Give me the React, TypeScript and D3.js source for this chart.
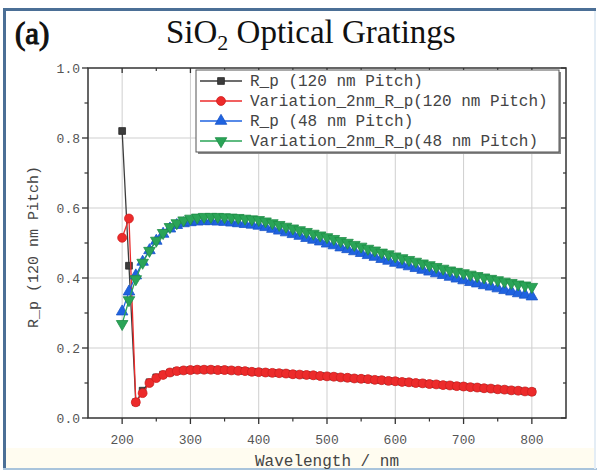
import React from "react";
import * as d3 from "d3";

const wavelengths = [200,210,220,230,240,250,260,270,280,290,300,310,320,330,340,350,360,370,380,390,400,410,420,430,440,450,460,470,480,490,500,510,520,530,540,550,560,570,580,590,600,610,620,630,640,650,660,670,680,690,700,710,720,730,740,750,760,770,780,790,800];

const rp120 = [0.820,0.435,0.045,0.078,0.102,0.116,0.124,0.130,0.134,0.136,0.137,0.138,0.138,0.138,0.137,0.137,0.136,0.135,0.134,0.132,0.131,0.130,0.129,0.128,0.127,0.125,0.124,0.123,0.122,0.120,0.119,0.118,0.116,0.115,0.113,0.112,0.111,0.109,0.108,0.106,0.105,0.103,0.102,0.100,0.099,0.097,0.096,0.094,0.093,0.091,0.090,0.088,0.087,0.085,0.084,0.082,0.081,0.079,0.078,0.076,0.075];

const var120 = [0.515,0.570,0.045,0.071,0.100,0.114,0.123,0.130,0.134,0.136,0.137,0.138,0.138,0.138,0.137,0.137,0.136,0.135,0.134,0.132,0.131,0.130,0.129,0.128,0.127,0.125,0.124,0.123,0.122,0.120,0.119,0.118,0.116,0.115,0.113,0.112,0.111,0.109,0.108,0.106,0.105,0.103,0.102,0.100,0.099,0.097,0.096,0.094,0.093,0.091,0.090,0.088,0.087,0.085,0.084,0.082,0.081,0.079,0.078,0.076,0.075];

const rp48 = [0.304,0.361,0.407,0.446,0.479,0.506,0.526,0.541,0.551,0.556,0.559,0.561,0.562,0.562,0.561,0.560,0.558,0.556,0.554,0.552,0.549,0.545,0.540,0.535,0.530,0.525,0.520,0.514,0.509,0.504,0.498,0.493,0.487,0.482,0.476,0.471,0.465,0.460,0.454,0.449,0.443,0.438,0.433,0.428,0.423,0.418,0.413,0.408,0.403,0.398,0.393,0.388,0.384,0.379,0.375,0.370,0.365,0.361,0.356,0.352,0.347];

const var48 = [0.269,0.337,0.397,0.444,0.478,0.507,0.529,0.546,0.557,0.565,0.570,0.573,0.575,0.575,0.575,0.574,0.573,0.572,0.570,0.568,0.566,0.562,0.557,0.552,0.547,0.542,0.537,0.532,0.527,0.522,0.517,0.512,0.506,0.501,0.495,0.490,0.484,0.479,0.473,0.468,0.462,0.457,0.452,0.447,0.442,0.437,0.432,0.427,0.422,0.418,0.414,0.410,0.406,0.402,0.398,0.394,0.390,0.386,0.382,0.379,0.375];

const seriesNames = ["R_p (120 nm Pitch)", "Variation_2nm_R_p(120 nm Pitch)", "R_p (48 nm Pitch)", "Variation_2nm_R_p(48 nm Pitch)"];
const xTicks = [200, 300, 400, 500, 600, 700, 800];
const xMinorTicks = [250, 350, 450, 550, 650, 750];
const yTicks = [0, 0.2, 0.4, 0.6, 0.8, 1.0];
const yMinorTicks = [0.1, 0.3, 0.5, 0.7, 0.9];

const L = 88, R = 566, T = 68, B = 418;
const MONO = "'Liberation Mono', 'DejaVu Sans Mono', monospace";
const SERIF = "'Liberation Serif', 'DejaVu Serif', serif";

const styles = [
  { fill: "#3c3c3c", stroke: "#2a2a2a", sym: d3.symbolSquare, size: 46, rot: 0 },
  { fill: "#ec2b2b", stroke: "#d42020", sym: d3.symbolCircle, size: 62, rot: 0 },
  { fill: "#1f63e0", stroke: "#1a55c8", sym: d3.symbolTriangle, size: 58, rot: 0 },
  { fill: "#2aa457", stroke: "#208e48", sym: d3.symbolTriangle, size: 58, rot: 180 },
];

export default function App() {
  const x = d3.scaleLinear().domain([150, 850]).range([L, R]);
  const y = d3.scaleLinear().domain([0, 1]).range([B, T]);
  const allSeries = [rp120, var120, rp48, var48];
  const line = d3.line<[number, number]>().x(d => x(d[0])).y(d => y(d[1]));

  return (
    <svg width={597} height={472} style={{ position: "absolute", left: 0, top: 0, background: "#fff" }}>
      <rect x={0} y={0} width={597} height={472} fill="#fff" />
      <rect x={6} y={448} width={588} height={20} fill="#fffcf0" />
      {/* frame */}
      <rect x={3} y={8} width={593} height={3} fill="#4b6f96" />
      <rect x={3} y={8} width={3} height={462} fill="#4b6f96" />
      <rect x={3} y={468} width={594} height={2} fill="#a9c4dc" />
      <rect x={594} y={11} width={2} height={458} fill="#e4edf5" />

      {/* titles */}
      <text x={15} y={44} fontFamily={SERIF} fontSize={31} fill="#111" stroke="#111" strokeWidth={1.1}>(a)</text>
      <text x={166} y={43} fontFamily={SERIF} fontSize={33} fill="#111">
        SiO<tspan fontSize={22} dy={7}>2</tspan><tspan dy={-7}> Optical Gratings</tspan>
      </text>

      {/* grid */}
      {xTicks.map(t => (
        <line key={"gx" + t} x1={x(t)} x2={x(t)} y1={T} y2={B} stroke="#cfcfcf" strokeWidth={1} />
      ))}
      {yTicks.slice(1, -1).map(t => (
        <line key={"gy" + t} x1={L} x2={R} y1={y(t)} y2={y(t)} stroke="#cfcfcf" strokeWidth={1} />
      ))}

      {/* series */}
      {allSeries.map((vals, i) => {
        const pts = wavelengths.map((w, j) => [w, vals[j]] as [number, number]);
        const st = styles[i];
        const path = d3.symbol().type(st.sym).size(st.size)();
        return (
          <g key={"s" + i}>
            <path d={line(pts) || ""} fill="none" stroke={st.fill} strokeWidth={1.3} />
            {pts.map((p, j) => (
              <path key={j} d={path || ""} transform={`translate(${x(p[0])},${y(p[1])}) rotate(${st.rot})`} fill={st.fill} stroke={st.stroke} strokeWidth={0.8} />
            ))}
          </g>
        );
      })}

      {/* axes frame */}
      <rect x={L} y={T} width={R - L} height={B - T} fill="none" stroke="#333" strokeWidth={1.5} />
      {xTicks.map(t => (
        <g key={"xt" + t}>
          <line x1={x(t)} x2={x(t)} y1={B} y2={B + 6} stroke="#333" strokeWidth={1.3} />
          <line x1={x(t)} x2={x(t)} y1={T} y2={T + 5} stroke="#333" strokeWidth={1.3} />
          <text x={x(t)} y={444} textAnchor="middle" fontFamily={MONO} fontSize={13} fill="#555">{t}</text>
        </g>
      ))}
      {xMinorTicks.map(t => (
        <g key={"xm" + t}>
          <line x1={x(t)} x2={x(t)} y1={B} y2={B + 3.5} stroke="#333" strokeWidth={1.2} />
          <line x1={x(t)} x2={x(t)} y1={T} y2={T + 3} stroke="#333" strokeWidth={1.2} />
        </g>
      ))}
      {yTicks.map(t => (
        <g key={"yt" + t}>
          <line x1={L - 6} x2={L} y1={y(t)} y2={y(t)} stroke="#333" strokeWidth={1.3} />
          <line x1={R - 5} x2={R} y1={y(t)} y2={y(t)} stroke="#333" strokeWidth={1.3} />
          <text x={80} y={y(t) + 4.5} textAnchor="end" fontFamily={MONO} fontSize={13} fill="#555">{t.toFixed(1)}</text>
        </g>
      ))}
      {yMinorTicks.map(t => (
        <g key={"ym" + t}>
          <line x1={L - 3.5} x2={L} y1={y(t)} y2={y(t)} stroke="#333" strokeWidth={1.2} />
          <line x1={R - 3} x2={R} y1={y(t)} y2={y(t)} stroke="#333" strokeWidth={1.2} />
        </g>
      ))}

      {/* axis titles */}
      <text x={(L + R) / 2} y={466} textAnchor="middle" fontFamily={MONO} fontSize={16} fill="#444">Wavelength / nm</text>
      <text transform={`translate(38,${(T + B) / 2 + 4}) rotate(-90)`} textAnchor="middle" fontFamily={MONO} fontSize={15} fill="#444">R_p (120 nm Pitch)</text>

      {/* legend */}
      <rect x={198} y={72} width={363} height={82} fill="#888" />
      <rect x={196} y={70} width={363} height={82} fill="#fff" stroke="#555" strokeWidth={1} />
      {seriesNames.map((name, i) => {
        const cy = 81 + i * 20;
        const st = styles[i];
        const path = d3.symbol().type(st.sym).size(st.size)();
        return (
          <g key={"lg" + i}>
            <line x1={200} x2={242} y1={cy} y2={cy} stroke={st.fill} strokeWidth={1.3} />
            <path d={path || ""} transform={`translate(221,${cy}) rotate(${st.rot})`} fill={st.fill} stroke={st.stroke} strokeWidth={0.8} />
            <text x={250} y={cy + 5} fontFamily={MONO} fontSize={16} fill="#444">{name}</text>
          </g>
        );
      })}
    </svg>
  );
}
